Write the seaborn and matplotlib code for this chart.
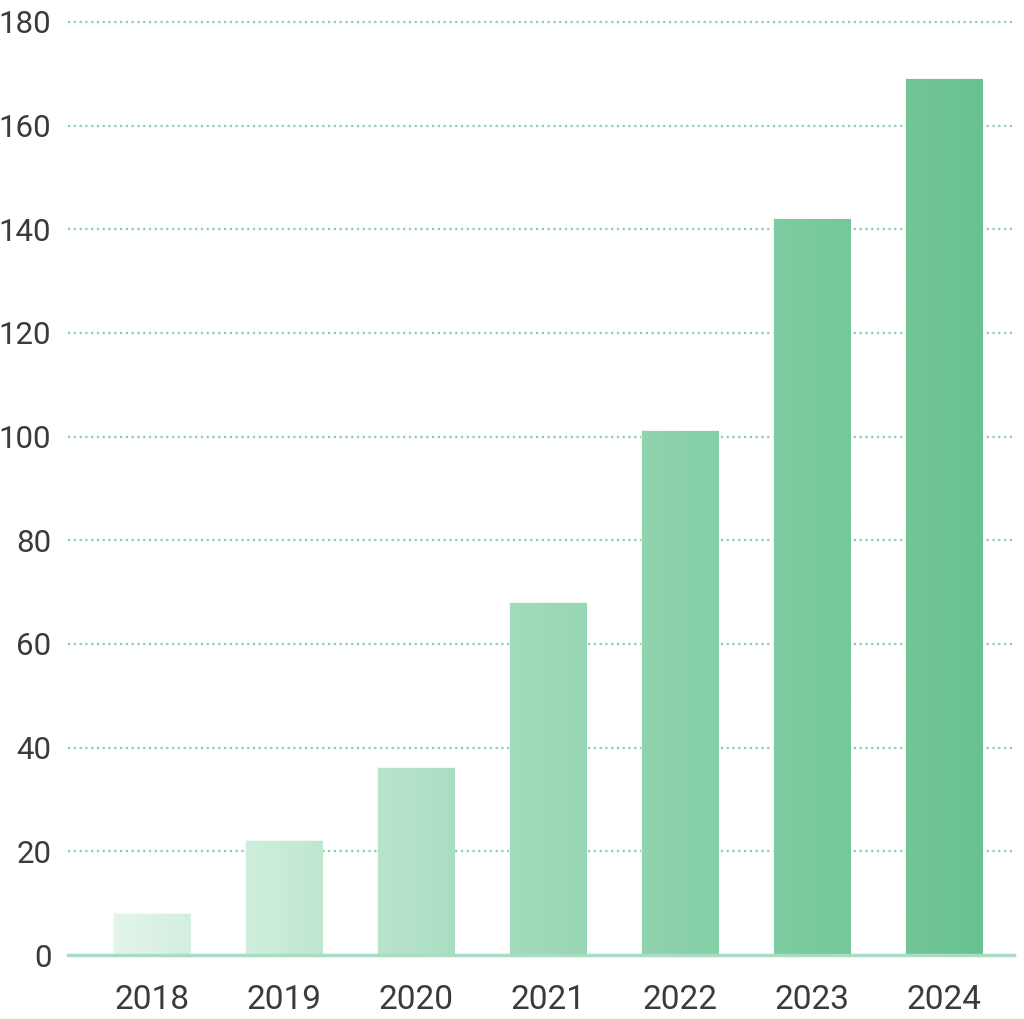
import numpy as np
import pandas as pd
import seaborn as sns
from matplotlib import pyplot as plt
from matplotlib.colors import to_rgb, LinearSegmentedColormap

years = ["2018", "2019", "2020", "2021", "2022", "2023", "2024"]
values = [8, 22, 36, 68, 101, 142, 169]
ticks = [0, 20, 40, 60, 80, 100, 120, 140, 160, 180]

# left (lighter) and right colour of each bar's gradient
left_cols = ["#e4f5eb", "#d0eedd", "#b9e4cc", "#a3dbbd", "#90d3af", "#7dcca2", "#72c698"]
right_cols = ["#d4efdf", "#bfe7d0", "#a9dec1", "#97d6b4", "#85cfa7", "#74c89b", "#69c292"]

df = pd.DataFrame({"year": years, "value": values})

sns.set_style("white")
plt.rcParams["font.family"] = ["Roboto", "DejaVu Sans"]

fig = plt.figure(figsize=(10.24, 10.19), dpi=100)
ax = fig.add_axes([0.0664, 0.0628, 0.9236, 0.9172])

sns.barplot(data=df, x="year", y="value", ax=ax, width=0.576,
            palette=right_cols, hue="year", legend=False, saturation=1)

for bar, c1, c2 in zip(ax.patches, left_cols, right_cols):
    x0, y0 = bar.get_x(), bar.get_y()
    w, h = bar.get_width(), bar.get_height()
    cmap = LinearSegmentedColormap.from_list("g", [to_rgb(c1), to_rgb(c2)])
    grad = np.linspace(0, 1, 64).reshape(1, -1)
    im = ax.imshow(grad, cmap=cmap, aspect="auto", extent=(x0, x0 + w, y0, y0 + h),
                   zorder=bar.get_zorder() + 0.1)
    im.set_clip_path(bar)
    bar.set_edgecolor("#eef8f2")
    bar.set_linewidth(1.2)

ax.set_xlim(-0.636, 6.53)
ax.set_ylim(0, 180.3)

ax.set_yticks(ticks)
ax.yaxis.grid(True, color="#86d1b0", linestyle=(0, (1, 1.6)), linewidth=1.6)
ax.set_axisbelow(True)
for t in ax.get_ygridlines():
    t.set_clip_on(False)

for s in ["top", "right", "left"]:
    ax.spines[s].set_visible(False)
ax.spines["bottom"].set_color("#a9dcc2")
ax.spines["bottom"].set_linewidth(2.5)
ax.spines["bottom"].set_zorder(5)

ax.tick_params(axis="y", length=0, pad=12, labelsize=22.5, labelcolor="#3b3b3b")
ax.tick_params(axis="x", length=0, pad=21, labelsize=24, labelcolor="#3b3b3b")
ax.set_xlabel("")
ax.set_ylabel("")

fig.savefig("out.png", dpi=100)
